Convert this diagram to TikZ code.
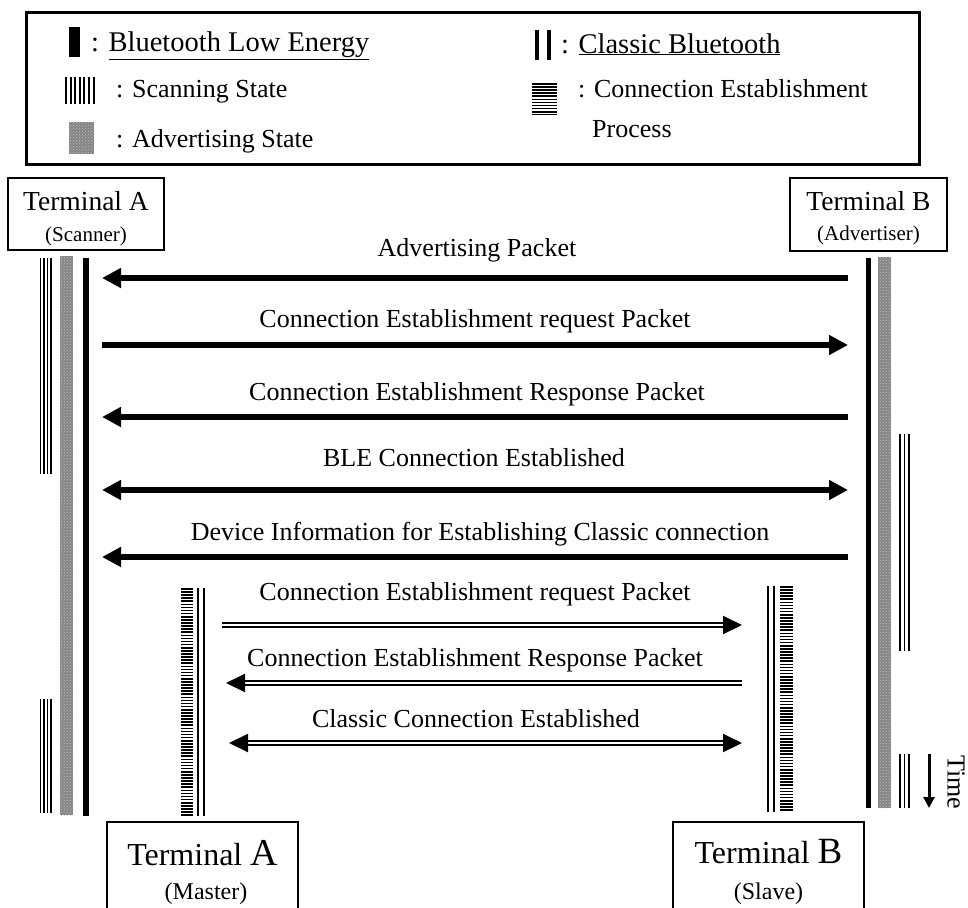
\documentclass[tikz,border=0pt]{standalone}
\usepackage{fontspec}
\setmainfont{Liberation Serif}
\usetikzlibrary{arrows.meta,patterns}
\newcommand{\myfs}[1]{\fontsize{#1pt}{#1pt}\selectfont}
\begin{document}
\begin{tikzpicture}[x=1pt,y=-1pt,
  lbl/.style={anchor=base, inner sep=0pt, font=\myfs{26}},
  lgt/.style={anchor=base west, inner sep=0pt, font=\myfs{26}},
  box/.style={draw, line width=1.2pt, inner sep=0pt},
  tip/.style={Triangle[length=19pt,width=19pt]},
  ble/.style={line width=6pt, -{Triangle[length=19pt,width=19pt]}},
  bleboth/.style={line width=6pt, {Triangle[length=19pt,width=19pt]}-{Triangle[length=19pt,width=19pt]}},
  cls/.style={double, double distance=2pt, line width=2pt, -{Triangle[length=19pt,width=18pt]}},
  clsboth/.style={double, double distance=2pt, line width=2pt, {Triangle[length=19pt,width=18pt]}-{Triangle[length=19pt,width=18pt]}},
  adv/.style={fill=black!48, postaction={pattern=crosshatch dots, pattern color=black!25}},
  scanln/.style={line width=1.5pt},
  cep/.style={dash pattern=on 1.6pt off 1.5pt},
  clsline/.style={double, line width=2.2pt, double distance=3.6pt},
]
\useasboundingbox (0,0) rectangle (968,907);

% ---------- legend ----------
\draw[line width=3pt] (26,13) rectangle (919,164);
\fill (69,27) rectangle (80,57);
\node[lgt, font=\myfs{28.5}] (lg1) at (91,52) {: \underline{Bluetooth Low Energy}};
\foreach \i in {0,...,6} \draw[line width=2pt] ({66+\i*4.6},77) -- ({66+\i*4.6},104);
\node[lgt] (lg2) at (116,97) {: Scanning State};
\fill[adv] (69,122) rectangle (94,154);
\node[lgt] (lg3) at (116,147) {: Advertising State};
\draw[line width=4pt] (537,30) -- (537,60);
\draw[line width=4pt] (549,30) -- (549,60);
\node[lgt, font=\myfs{28.5}] (lg4) at (561,53) {: \underline{Classic Bluetooth}};
\draw[line width=25pt, cep] (544.5,83) -- (544.5,115);
\node[lgt] (lg5) at (578,97) {: Connection Establishment};
\node[lgt] (lg6) at (592,137) {Process};

% ---------- terminals (top) ----------
\node[box, minimum width=156pt, minimum height=72pt] (tA) at (86,214) {};
\node[lbl, font=\myfs{27.5}] (tAt) at (86,210) {Terminal A};
\node[lbl, font=\myfs{21}] (tAs) at (86,241) {(Scanner)};
\node[box, minimum width=157pt, minimum height=73pt] (tB) at (868.5,214.5) {};
\node[lbl, font=\myfs{27.5}] (tBt) at (868.5,210) {Terminal B};
\node[lbl, font=\myfs{21}] (tBs) at (868.5,240) {(Advertiser)};

% ---------- terminals (bottom) ----------
\node[box, minimum width=191pt, minimum height=90pt] (bA) at (202.5,867) {};
\node[lbl, font=\myfs{32}] (bAt) at (202.5,865) {Terminal {\myfs{38}A}};
\node[lbl, font=\myfs{24}] (bAs) at (206,899) {(Master)};
\node[box, minimum width=191pt, minimum height=90pt] (bB) at (768.5,867) {};
\node[lbl, font=\myfs{32}] (bBt) at (768.5,863) {Terminal {\myfs{37}B}};
\node[lbl, font=\myfs{24}] (bBs) at (768.5,899) {(Slave)};

% ---------- lifelines: Terminal A (scanner) ----------
\foreach \x in {40.5,44,47.5,51} {
  \draw[scanln] (\x,258) -- (\x,474);
  \draw[scanln] (\x,699) -- (\x,813);
}
\fill[adv] (60,256) rectangle (73,815);
\draw[line width=6pt] (86,258) -- (86,816);

% ---------- lifelines: Terminal B (advertiser) ----------
\draw[line width=5.5pt] (868.5,258) -- (868.5,808);
\fill[adv] (878,257) rectangle (891,808);
\foreach \x in {900,904.5,909} {
  \draw[line width=1.6pt] (\x,434) -- (\x,651);
  \draw[line width=1.6pt] (\x,754) -- (\x,808);
}
\coordinate (t1) at (929,754);
\coordinate (t2) at (929,808);
\draw[line width=3pt, -{Triangle[length=11pt,width=11pt]}] (t1) -- (t2);
\node[font=\myfs{26}, rotate=-90, inner sep=0pt] (time) at (956,782) {Time};

% ---------- classic lifelines ----------
\draw[line width=12pt, cep] (187,588) -- (187,816);
\draw[clsline] (201,588) -- (201,816);
\draw[clsline] (771,586) -- (771,812);
\draw[line width=13pt, cep] (786.5,586) -- (786.5,812);

% ---------- message endpoints ----------
\foreach \n/\y in {1/278,2/345,3/417,4/490,5/557} {
  \coordinate (L\n) at (102,\y);
  \coordinate (R\n) at (848,\y);
}
\coordinate (L6) at (222,625); \coordinate (R6) at (742,625);
\coordinate (L7) at (226,683); \coordinate (R7) at (742,683);
\coordinate (L8) at (229,743); \coordinate (R8) at (742,743);

% ---------- BLE messages ----------
\node[lbl] (m1) at (477,256) {Advertising Packet};
\draw[ble] (R1) -- (L1);
\node[lbl] (m2) at (475,327) {Connection Establishment request Packet};
\draw[ble] (L2) -- (R2);
\node[lbl] (m3) at (477,400) {Connection Establishment Response Packet};
\draw[ble] (R3) -- (L3);
\node[lbl] (m4) at (474,466) {BLE Connection Established};
\draw[bleboth] (L4) -- (R4);
\node[lbl] (m5) at (480,540) {Device Information for Establishing Classic connection};
\draw[ble] (R5) -- (L5);

% ---------- Classic messages ----------
\node[lbl] (m6) at (475,600) {Connection Establishment request Packet};
\draw[cls] (L6) -- (R6);
\node[lbl] (m7) at (475,666) {Connection Establishment Response Packet};
\draw[cls] (R7) -- (L7);
\node[lbl] (m8) at (476,727) {Classic Connection Established};
\draw[clsboth] (L8) -- (R8);
\end{tikzpicture}
\end{document}
